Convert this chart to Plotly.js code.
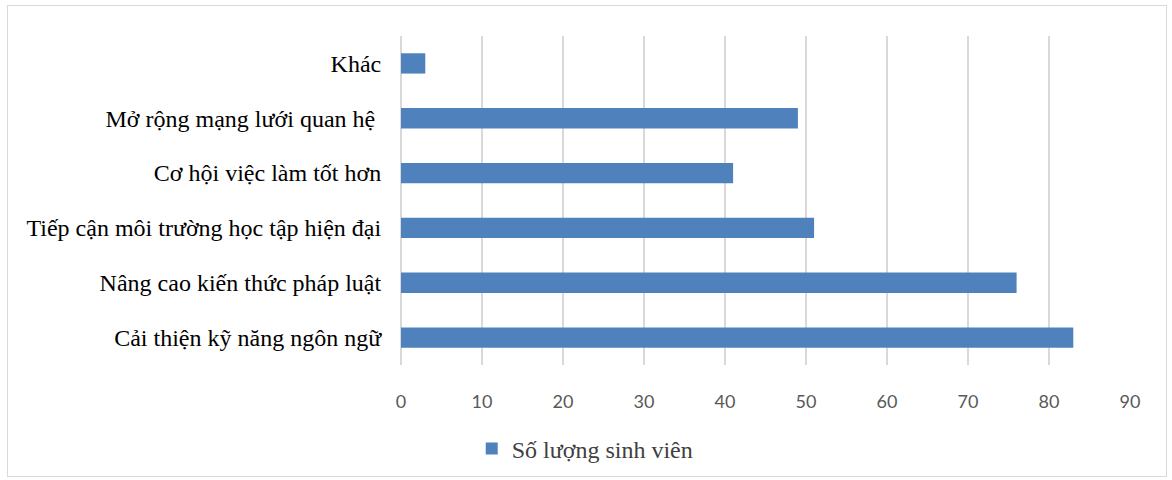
<!DOCTYPE html>
<html>
<head>
<meta charset="utf-8">
<script src="https://cdn.plot.ly/plotly-3.0.1.min.js"></script>
<style>
  html, body { margin: 0; padding: 0; background: #ffffff; }
  #frame { position: absolute; left: 7px; top: 5px; width: 1158px; height: 470px; border: 1px solid #d9d9d9; }
  #chart { width: 1158px; height: 470px; }
</style>
</head>
<body>
<div id="frame"><div id="chart"></div></div>
<script>
// Categories listed bottom to top
const categories = [
  "Cải thiện kỹ năng ngôn ngữ",
  "Nâng cao kiến thức pháp luật",
  "Tiếp cận môi trường học tập hiện đại",
  "Cơ hội việc làm tốt hơn",
  "Mở rộng mạng lưới quan hệ\u00a0",
  "Khác"
];
const studentCounts = [83, 76, 51, 41, 49, 3];
const seriesName = "Số lượng sinh viên";
const xTickValues = [0, 10, 20, 30, 40, 50, 60, 70, 80, 90];

const trace = {
  type: "bar",
  orientation: "h",
  y: categories,
  x: studentCounts,
  name: seriesName,
  width: 0.37,
  marker: { color: "#4f81bd", line: { width: 0 } },
  showlegend: true,
  hoverinfo: "x+y"
};

const layout = {
  width: 1158,
  height: 470,
  margin: { l: 393, r: 36, t: 30, b: 111, autoexpand: false },
  paper_bgcolor: "#ffffff",
  plot_bgcolor: "#ffffff",
  showlegend: true,
  xaxis: {
    range: [0, 90],
    tickvals: xTickValues,
    ticktext: xTickValues.map(String),
    showgrid: true,
    gridcolor: "#d9d9d9",
    gridwidth: 1.5,
    zeroline: true,
    zerolinecolor: "#d9d9d9",
    zerolinewidth: 1.5,
    showline: false,
    ticks: "outside",
    ticklen: 20,
    tickcolor: "rgba(0,0,0,0)",
    tickfont: { family: "Lato, 'Open Sans', sans-serif", size: 18, color: "#595959" },
    automargin: false,
    fixedrange: true
  },
  yaxis: {
    type: "category",
    categoryorder: "array",
    categoryarray: categories,
    showgrid: false,
    zeroline: false,
    showline: false,
    ticks: "outside",
    ticklen: 14,
    tickcolor: "rgba(0,0,0,0)",
    tickfont: { family: "'Liberation Serif', 'Times New Roman', serif", size: 24, color: "#000000" },
    automargin: false,
    fixedrange: true
  },
  legend: {
    orientation: "h",
    x: 0.097,
    xanchor: "left",
    y: -0.255,
    yanchor: "middle",
    font: { family: "'Liberation Serif', 'Times New Roman', serif", size: 24, color: "#404040" },
    bgcolor: "rgba(0,0,0,0)"
  }
};

Plotly.newPlot("chart", [trace], layout, { displayModeBar: false, staticPlot: true });
</script>
</body>
</html>
